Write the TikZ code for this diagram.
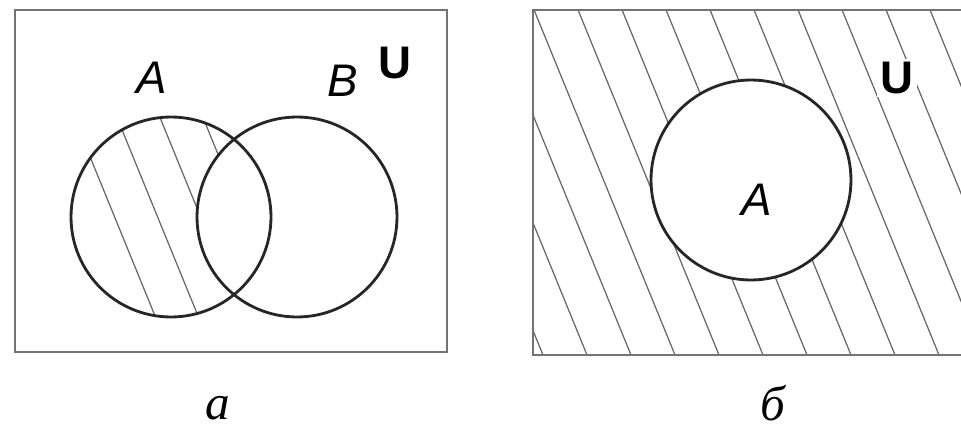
\documentclass[tikz,border=0pt]{standalone}
\usepackage{fontspec}
\setmainfont{Liberation Serif}
\newfontfamily\sanslabel{Liberation Sans}
\usetikzlibrary{backgrounds}

\begin{document}
\begin{tikzpicture}[x=0.02cm, y=-0.02cm,
  setcircle/.style={circle, draw=black!85, line width=1.6pt, minimum size=4cm,
    inner sep=0pt},
  setname/.style={font=\sanslabel\itshape\fontsize{26}{30}\selectfont, inner sep=1pt},
  universe/.style={font=\sanslabel\bfseries\fontsize{26}{30}\selectfont,
    fill=white, inner sep=2pt},
  caption/.style={font=\itshape\fontsize{28}{32}\selectfont},
  frame/.style={draw=black!55, line width=1.2pt},
  hatch/.style={draw=black!60, line width=0.7pt}]
  \useasboundingbox (0,0) rectangle (961,426);
  % a: A minus B
  \draw[frame] (15,10) rectangle (447,352);
  \node[setcircle] (A) at (171,217) {};
  \node[setcircle] (B) at (297,217) {};
  \node[setname] (labA) at (152,78) {A};
  \node[setname] (labB) at (343,81) {B};
  \node[universe] (U1) at (395,63) {U};
  \node[caption] (capa) at (218,408) {а};
  % b: complement of A
  \draw[frame] (961,10) -- (533,10) -- (533,355) -- (961,355);
  \node[setcircle, fill=white] (A2) at (751,180) {};
  \node[setname] (labA2) at (757,200) {A};
  \node[universe] (U2) at (897,78) {U};
  \node[caption] (capb) at (773,403) {б};
  % hatching
  \begin{pgfonlayer}{background}
    \begin{scope}[even odd rule]
      \clip (A.center) circle[radius=100];
      \clip (0,0) rectangle (961,426) (B.center) circle[radius=100];
      \foreach \c in {26,69,...,200}
        \draw[hatch] (\c,0) -- ++(174,426);
    \end{scope}
    \begin{scope}
      \clip (533,10) rectangle (961,355);
      \foreach \c in {398,442,...,972}
        \draw[hatch] (\c,0) -- ++(174,426);
    \end{scope}
  \end{pgfonlayer}
\end{tikzpicture}
\end{document}
